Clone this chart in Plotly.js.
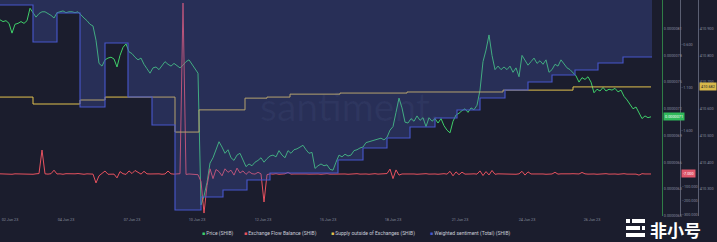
<!DOCTYPE html>
<html><head><meta charset="utf-8">
<script src="https://cdn.plot.ly/plotly-3.0.1.min.js"></script>
<style>html,body{margin:0;padding:0;background:#1b1d2d;}#chart{width:717px;height:242px;}</style>
</head><body><div id="chart"></div>
<script>
// ---- data ----
const seriesStart = "2023-06-01 15:00";   // first sample
const sampleHours = 3;                     // price / flow sampling interval
const xRange = ["2023-06-01 15:00", "2023-06-28 22:00"];

// Price (SHIB), in units of 1e-7 USD
const priceE7 = [82.0,81.8,81.9,81.6,80.5,81.5,81.6,81.8,81.6,81.9,
83.3,82.8,82.3,82.7,82.9,82.9,82.7,82.5,82.2,82.8,
82.9,83.0,82.8,82.9,82.9,82.8,82.9,82.5,82.2,81.9,
81.5,81.3,79.7,77.1,76.8,77.5,77.7,77.8,77.6,76.7,
78.0,78.9,79.3,78.4,78.2,77.8,77.5,77.7,77.0,76.5,
76.0,76.6,76.7,76.4,76.9,77.3,77.0,76.8,77.1,76.8,
76.6,76.9,77.3,77.5,77.0,76.6,76.0,61.2,62.2,63.7,
65.9,66.5,67.4,68.3,67.7,67.0,67.4,66.5,66.2,66.8,
67.0,66.2,65.5,65.8,65.6,66.0,66.2,66.5,66.0,66.4,
66.7,66.8,66.6,67.3,66.8,66.5,67.3,67.0,67.4,67.5,
67.7,67.9,67.4,67.0,67.1,65.3,65.6,65.8,65.6,65.7,
65.2,65.1,66.0,66.8,66.6,66.9,66.7,66.8,67.3,67.4,
67.6,67.7,68.2,68.3,68.4,68.5,68.6,68.7,68.5,68.8,
69.6,70.0,71.6,73.2,72.1,70.5,70.4,70.9,70.6,71.2,
70.7,71.0,70.0,71.0,70.6,70.9,70.4,70.9,70.1,69.6,
69.3,70.6,71.3,71.5,71.8,72.0,71.6,72.1,71.9,72.4,
74.1,77.3,78.6,80.3,78.0,76.4,76.8,76.4,76.7,76.4,
76.8,76.1,76.6,75.6,78.0,77.5,76.9,77.3,77.7,77.1,
77.4,77.0,77.5,76.1,76.4,77.0,76.8,77.5,77.0,76.6,
76.4,76.1,75.7,75.0,75.5,75.3,75.6,75.0,73.8,74.2,
74.0,74.4,74.0,74.2,74.1,74.3,73.9,74.1,73.4,73.0,
72.5,72.0,72.2,71.5,70.9,71.2,71.0,71.1];

// Exchange Flow Balance (SHIB), billions
const flowB = [-6,-8,-5,-7,-9,-6,-7,-5,-8,-6,
-7,-9,-6,-4,164,-6,-8,-5,20,-7,
-6,-9,-5,-7,-8,-6,-4,-7,-9,-6,
-5,-8,-71,-20,-3,14,-9,-6,-8,-35,
10,-5,-10,15,-4,18,5,-8,12,-6,
-7,-5,-8,-6,-9,-7,14,-6,-8,-7,
-5,1214,-10,-7,-8,-6,-12,-60,-286,-90,
30,-40,25,10,-20,30,5,20,-15,35,
0,15,-10,10,-5,-8,5,-6,-207,-12,
-6,-8,-5,-9,-7,-6,5,-8,-7,-6,
-9,-5,-7,-8,-6,-4,-7,-9,-6,-5,
-8,-7,-6,-8,-5,-7,-9,-6,-7,-5,
-8,-6,-7,-9,-6,-5,-8,-7,-6,-4,
28,-40,22,-15,-7,-6,-8,-5,-7,-9,
-6,-7,-5,-8,-6,-7,-9,-6,-5,-8,
12,-20,8,-12,6,-8,-5,-7,-6,-8,
15,-18,10,-14,18,-9,-6,-7,-5,-8,
-6,-7,-9,-6,12,-15,8,-7,-6,-8,
-5,-7,-9,-6,-7,5,-8,-6,-7,-9,
-6,-5,-8,-7,4,-6,-8,-5,-7,-9,
-6,-7,-5,-8,-6,-7,-9,-6,-5,-8,
-7,-6,-8,-15,-5,-7,-6,-7];

// Supply outside of Exchanges (SHIB), trillions (step changes)
const supplyTimes = ["2023-06-01 15:00","2023-06-03 00:00","2023-06-04 23:00","2023-06-06 00:00",
"2023-06-08 22:00","2023-06-09 22:00","2023-06-11 20:00","2023-06-12 18:00","2023-06-13 17:00",
"2023-06-15 19:00","2023-06-18 14:00","2023-06-22 14:00","2023-06-25 12:00","2023-06-28 18:00"];
const supplyT = [410.644,410.618,410.633,410.644,410.513,410.596,410.640,410.644,410.655,
410.659,410.663,410.670,410.682,410.682];

// Weighted sentiment (Total) (SHIB), daily steps
const sentimentTimes = ["2023-06-01 15:00","2023-06-03 00:00","2023-06-04 00:00","2023-06-04 23:00",
"2023-06-06 00:00","2023-06-06 23:00","2023-06-07 23:00","2023-06-08 22:00","2023-06-10 00:00",
"2023-06-10 22:00","2023-06-11 22:00","2023-06-12 21:00","2023-06-15 17:00","2023-06-16 18:00",
"2023-06-17 18:00","2023-06-18 17:00","2023-06-19 18:00","2023-06-20 16:00","2023-06-21 15:00",
"2023-06-22 16:00","2023-06-23 15:00","2023-06-24 15:00","2023-06-25 14:00","2023-06-26 13:00",
"2023-06-27 14:00","2023-06-28 19:00"];
const sentimentValues = [-0.135,-0.565,-0.228,-1.321,-0.577,-1.205,-1.530,-2.519,-2.367,
-2.286,-2.170,-2.088,-1.937,-1.798,-1.681,-1.553,-1.449,-1.356,-1.216,
-1.123,-1.030,-0.949,-0.891,-0.809,-0.740,-0.740];

// axis ticks
const xTickTimes = ["2023-06-02 01:00","2023-06-04 09:00","2023-06-07 03:00","2023-06-09 20:00",
"2023-06-12 14:00","2023-06-15 07:00","2023-06-18 00:00","2023-06-20 19:00","2023-06-23 14:00","2023-06-26 07:00"];
const xTickLabels = ["02 Jun 23","04 Jun 23","07 Jun 23","10 Jun 23","12 Jun 23","15 Jun 23",
"18 Jun 23","21 Jun 23","24 Jun 23","26 Jun 23"];
const priceTicksE7 = [84,81,78,75,72,69,66,63,60];
const sentimentTicks = [-0.1,-0.6,-1.1,-1.6];
const flowTicks = [-100,-200,-300];
const supplyTicks = [411.0,410.9,410.8,410.7,410.6,410.5,410.4,410.3];

const legendNames = ["Price (SHIB)","Exchange Flow Balance (SHIB)","Supply outside of Exchanges (SHIB)","Weighted sentiment (Total) (SHIB)"];

// ---- styling ----
const BG = "#1b1d2d";
const C_PRICE = "#3fcf6a", C_FLOW = "#e8525f", C_SUPPLY = "#e2c24e", C_SENT = "#4757cc";
const TICKC = "#878b9d";
const W = 717, H = 242, PLOT_H = 216;
const px = v => v / W;                       // horizontal pixel -> paper
const py = v => (PLOT_H - v) / PLOT_H;       // vertical pixel -> paper

function fmt(ms){ return new Date(ms).toISOString().slice(0,16).replace('T',' '); }
const t0 = Date.parse(seriesStart.replace(' ','T') + ":00Z");
const gridTimes = priceE7.map((_, i) => fmt(t0 + i * sampleHours * 3600000));
const price = priceE7.map(v => v * 1e-7);

const traces = [
  {x: gridTimes, y: price, yaxis: 'y', type: 'scatter', mode: 'lines',
   line: {color: C_PRICE, width: 1}, hoverinfo: 'skip'},
  {x: gridTimes, y: flowB, yaxis: 'y2', type: 'scatter', mode: 'lines',
   line: {color: C_FLOW, width: 1}, hoverinfo: 'skip'},
  {x: supplyTimes, y: supplyT, yaxis: 'y3', type: 'scatter', mode: 'lines',
   line: {color: C_SUPPLY, width: 1, shape: 'hv'}, hoverinfo: 'skip'},
  {x: sentimentTimes, y: sentimentValues, yaxis: 'y4', type: 'scatter', mode: 'lines',
   line: {color: C_SENT, width: 1.1, shape: 'hv'}, fill: 'tozeroy',
   fillcolor: 'rgba(72,88,185,0.30)', hoverinfo: 'skip'}
];

const tickFont = {size: 3.8, color: TICKC, family: 'Roboto, sans-serif'};
const baseY = {showgrid: false, zeroline: false, ticks: '', side: 'right', anchor: 'free',
  tickfont: tickFont, fixedrange: true};

const layout = {
  width: W, height: H, margin: {l: 0, r: 0, t: 0, b: H - PLOT_H},
  paper_bgcolor: BG, plot_bgcolor: BG, showlegend: false, hovermode: false,
  xaxis: {domain: [0, px(655)], range: xRange, type: 'date', showgrid: false, zeroline: false,
    showline: false, ticks: '', tickvals: xTickTimes, ticktext: xTickLabels,
    tickfont: {size: 3.8, color: TICKC, family: 'Roboto, sans-serif'}},
  yaxis: Object.assign({}, baseY, {position: px(662), range: [59.955e-7, 84.225e-7],
    tickvals: priceTicksE7.map(v => v * 1e-7), tickformat: '.7f',
    showline: true, linecolor: '#2f7d46', linewidth: 1}),
  yaxis2: Object.assign({}, baseY, {overlaying: 'y', position: px(680), range: [-307.1, 1235.7],
    tickvals: flowTicks, tickformat: '.3f', showline: true, linecolor: '#5b5f72', linewidth: 1}),
  yaxis3: Object.assign({}, baseY, {overlaying: 'y', position: px(698), range: [410.1986, 411.0075],
    tickvals: supplyTicks, tickformat: '.3f', showline: true, linecolor: '#5b5f72', linewidth: 1}),
  yaxis4: Object.assign({}, baseY, {overlaying: 'y', position: px(680), range: [-2.5884, -0.0767],
    tickvals: sentimentTicks, tickformat: '.3f', showline: false}),
  annotations: [],
  shapes: []
};

// watermark
layout.annotations.push({xref: 'paper', yref: 'paper', x: px(349), y: py(106), showarrow: false,
  text: 'santiment.', font: {size: 39, color: 'rgba(150,160,215,0.06)', family: 'Lato, sans-serif'}});

// current value badges
const badge = (xp, yref, yv, txt, bg, fc) => ({xref: 'paper', yref: yref, x: xp, y: yv, xanchor: 'left',
  yanchor: 'middle', showarrow: false, text: txt, bgcolor: bg, borderpad: 1,
  font: {size: 3.8, color: fc, family: 'Roboto, sans-serif'}});
layout.annotations.push(badge(px(662.5), 'y', price[price.length - 1], price[price.length - 1].toFixed(7), '#2fb85a', '#ffffff'));
layout.annotations.push(badge(px(681), 'y2', flowB[flowB.length - 1], flowB[flowB.length - 1].toFixed(3), '#e0566a', '#ffffff'));
layout.annotations.push(badge(px(699), 'y3', supplyT[supplyT.length - 1], supplyT[supplyT.length - 1].toFixed(3), '#d8b84a', '#1b1d2d'));

// legend
const legendColors = [C_PRICE, C_FLOW, C_SUPPLY, C_SENT];
const legendX = [200, 242, 329, 428];
legendNames.forEach((n, i) => layout.annotations.push({xref: 'paper', yref: 'paper', x: px(legendX[i]), y: py(233),
  xanchor: 'left', yanchor: 'middle', showarrow: false,
  text: '<span style="color:' + legendColors[i] + '">■</span> ' + n,
  font: {size: 5, color: '#c8cbd6', family: 'Roboto, sans-serif'}}));

// 非小号 logo watermark
layout.annotations.push({xref: 'paper', yref: 'paper', x: px(675), y: py(229), xanchor: 'center', yanchor: 'middle',
  showarrow: false, text: '<b>非小号</b>', font: {size: 17, color: '#ffffff', family: 'Noto Sans CJK SC, sans-serif'}});
const bars = [[626, 630, 219, 223], [632, 645, 219, 223], [626, 640, 226, 230], [642, 645, 226, 230], [626, 645, 233, 237]];
bars.forEach(b => layout.shapes.push({type: 'rect', xref: 'paper', yref: 'paper',
  x0: px(b[0]), x1: px(b[1]), y0: py(b[3]), y1: py(b[2]), fillcolor: '#ffffff', line: {width: 0}, layer: 'above'}));

Plotly.newPlot('chart', traces, layout, {staticPlot: true, displayModeBar: false});
</script></body></html>
